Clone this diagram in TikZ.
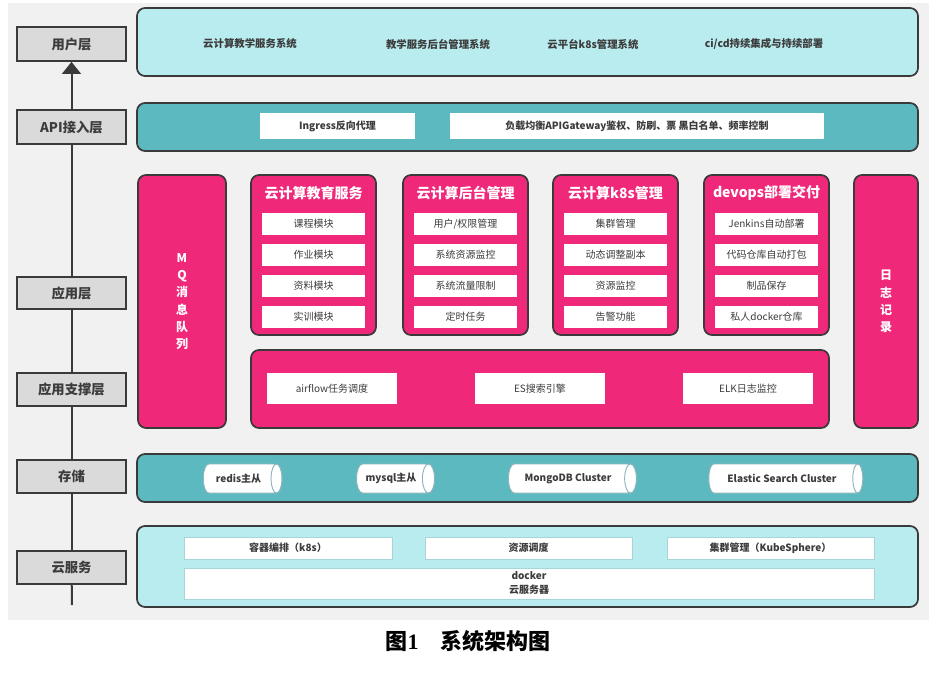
\documentclass[tikz,border=0pt]{standalone}
\usepackage{fontspec}
\setmainfont{Noto Sans CJK SC}
\newfontfamily\capnum{Liberation Serif}
\usepackage{xcolor}
\usepackage{tikz}
\usetikzlibrary{positioning}
\usetikzlibrary{fit}
\usetikzlibrary{shapes}
\usetikzlibrary{arrows.meta}
\definecolor{bggray}{HTML}{F1F1F1}
\definecolor{layergray}{HTML}{DADADA}
\definecolor{edge}{HTML}{3A3A3A}
\definecolor{txt}{HTML}{3C3C3C}
\definecolor{lightcyan}{HTML}{B9ECEF}
\definecolor{teal}{HTML}{5CB9BF}
\definecolor{hotpink}{HTML}{F0287A}
\definecolor{itemedge}{HTML}{A6D6DA}
\definecolor{cylline}{HTML}{8FB4BB}
\tikzset{
  layer/.style={draw=edge, fill=layergray, line width=1.2pt, inner sep=0pt,
    label={[text=txt, font=\fontsize{10}{12}\selectfont\bfseries]center:#1}},
  panel/.style={draw=edge, line width=1.3pt, rounded corners=6pt, inner sep=0pt},
  pinkpanel/.style={panel, fill=hotpink,
    label={[text=white, align=center, font=\fontsize{9}{13}\selectfont\bfseries]center:#1}},
  sheet/.style={fill=white, inner sep=0pt,
    label={[text=txt, font=\fontsize{7.5}{9}\selectfont]center:#1}},
  boldsheet/.style={fill=white, inner sep=0pt,
    label={[text=txt, font=\fontsize{7.5}{9}\selectfont\bfseries]center:#1}},
  cloudsheet/.style={boldsheet=#1, draw=itemedge, line width=0.6pt},
  plain/.style={text=txt, font=\fontsize{7.8}{9}\selectfont\bfseries},
  title/.style={text=white, font=\fontsize{10.5}{12}\selectfont\bfseries},
  db/.style={cylinder, shape border rotate=0, aspect=0.9, draw=cylline, line width=0.7pt,
    cylinder uses custom fill, cylinder body fill=white, cylinder end fill=white,
    inner sep=1pt, minimum width=21.75pt, text=txt, font=\fontsize{7.5}{9}\selectfont\bfseries}
}

\begin{document}
\begin{tikzpicture}[x=0.75pt, y=-0.75pt]
  \useasboundingbox (0,0) rectangle (936,672);
  \fill[bggray] (8,3) rectangle (929,620);

  \node[layer=用户层, fit={(17,27) (126,61)}] (userL) {};
  \node[layer=API接入层, fit={(17,110) (126,144)}] (apiL) {};
  \node[layer=应用层, fit={(17,277) (126,309)}] (appL) {};
  \node[layer=应用支撑层, fit={(17,373) (126,406)}] (supL) {};
  \node[layer=存储, fit={(17,460) (126,493)}] (storeL) {};
  \node[layer=云服务, fit={(17,551) (126,584)}] (cloudL) {};
  \coordinate (bot) at (72,605);
  \draw[edge, line width=1.5pt] (bot) -- (cloudL);
  \draw[edge, line width=1.5pt] (cloudL) -- (storeL);
  \draw[edge, line width=1.5pt] (storeL) -- (supL);
  \draw[edge, line width=1.5pt] (supL) -- (appL);
  \draw[edge, line width=1.5pt] (appL) -- (apiL);
  \draw[edge, line width=1.5pt, -{Triangle[width=14pt,length=9pt]}] (apiL) -- (userL);

  \node[panel, fill=lightcyan, fit={(137,8) (918,76)}] (userP) {};
  \foreach \x/\n/\t in {250/u1/云计算教学服务系统, 438/u2/教学服务后台管理系统,
      593/u3/云平台k8s管理系统, 764/u4/{ci/cd持续集成与持续部署}}
    \node[plain] (\n) at (\x,44) {\t};

  \node[panel, fill=teal, fit={(137,103) (918,151)}] (apiP) {};
  \node[boldsheet=Ingress反向代理, fit={(260,113) (415,139)}] (ingress) {};
  \node[boldsheet=负载均衡APIGateway鉴权、防刷、票 黑白名单、频率控制,
    fit={(450,113) (824,139)}] (gateway) {};

  \node[pinkpanel={M\\Q\\消\\息\\队\\列}, fit={(138,175) (226,428)}] (mq) {};
  \node[pinkpanel={日\\志\\记\\录}, fit={(854,175) (918,428)}] (log) {};

  \foreach \x/\n/\t/\a/\b/\c/\d in {
      251/edu/云计算教育服务/课程模块/作业模块/资料模块/实训模块,
      403/admin/云计算后台管理/{用户/权限管理}/系统资源监控/系统流量限制/定时任务,
      553/kube/云计算k8s管理/集群管理/动态调整副本/资源监控/告警功能,
      704/devops/devops部署交付/Jenkins自动部署/代码仓库自动打包/制品保存/私人docker仓库} {
    \node[panel, fill=hotpink, fit={(\x,175) (\x+125,335)}] (\n) {};
    \node[title] (\n-t) at (\x+62.5,193) {\t};
    \foreach \j/\y/\s in {1/213/\a, 2/244/\b, 3/275/\c, 4/306/\d}
      \node[sheet=\s, fit={(\x+11,\y) (\x+114,\y+22)}] (\n-\j) {};
  }

  \node[panel, fill=hotpink, fit={(251,350) (829,428)}] (supP) {};
  \node[sheet=airflow任务调度, fit={(267,373) (397,404)}] (airflow) {};
  \node[sheet=ES搜索引擎, fit={(475,373) (605,404)}] (es) {};
  \node[sheet=ELK日志监控, fit={(683,373) (813,404)}] (elk) {};

  \node[panel, fill=teal, fit={(137,454) (918,502)}] (storeP) {};
  \node[db, minimum height=59pt] (redis) at (238.5,478.5) {redis主从};
  \node[db, minimum height=58.5pt] (mysql) at (391,478.5) {mysql主从};
  \node[db, minimum height=96pt] (mongo) at (568,478.5) {MongoDB Cluster};
  \node[db, minimum height=115.5pt] (elastic) at (782,478.5) {Elastic Search Cluster};

  \node[panel, fill=lightcyan, fit={(137,526) (918,607)}] (cloudP) {};
  \node[cloudsheet=容器编排（k8s）, fit={(184,537) (392,559)}] (k8s) {};
  \node[cloudsheet=资源调度, fit={(425,537) (632,559)}] (sched) {};
  \node[cloudsheet=集群管理（KubeSphere）, fit={(667,537) (874,559)}] (sphere) {};
  \node[draw=itemedge, line width=0.6pt, fill=white, inner sep=0pt, fit={(184,568) (874,599)},
    label={[text=txt, align=center, font=\fontsize{7.5}{10.5}\selectfont\bfseries]center:{docker\\云服务器}}] (docker) {};

  \node[text=black, font=\fontsize{16.5}{18}\selectfont\bfseries] (caption) at (468,641)
    {图{\capnum 1}\quad 系统架构图};
\end{tikzpicture}
\end{document}
